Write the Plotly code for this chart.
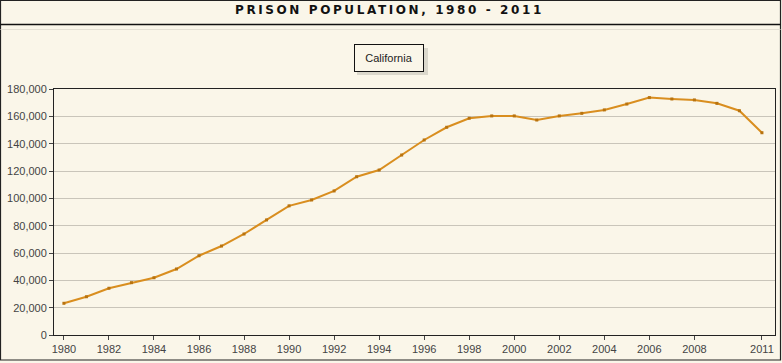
import plotly.graph_objects as go

years = list(range(1980, 2012))
california = [23200, 28000, 34200, 38300, 41900, 48300, 58000, 65100, 73900, 84200,
              94500, 98800, 105400, 115800, 120700, 131700, 142700, 152000, 158600, 160300,
              160300, 157300, 160300, 162200, 164700, 169000, 173700, 172700, 172000, 169500,
              164100, 148000]
x_ticks = [1980, 1982, 1984, 1986, 1988, 1990, 1992, 1994, 1996, 1998, 2000, 2002, 2004, 2006, 2008, 2011]
y_ticks = [0, 20000, 40000, 60000, 80000, 100000, 120000, 140000, 160000, 180000]
title_text = "PRISON POPULATION, 1980 - 2011"
series_name = "California"

W, H = 782, 363
L, R, T, B = 54, 7, 89, 28
pw, ph = W - L - R, H - T - B

def px(x):
    return (x - L) / pw

def py(y):
    return (H - B - y) / ph

bg = "#FAF6E9"
fig = go.Figure()
fig.add_trace(go.Scatter(
    x=years, y=california, mode="lines+markers", name=series_name,
    line=dict(color="#D98E1F", width=2),
    marker=dict(color="#B8730F", size=3, symbol="square"),
    showlegend=False,
))

shapes = [
    dict(type="rect", xref="paper", yref="paper", x0=px(0.5), x1=px(W - 1.5), y0=py(H - 3), y1=py(0.5),
         line=dict(color="#222", width=1.2), layer="below"),
    dict(type="line", xref="paper", yref="paper", x0=px(0.5), x1=px(W - 1.5), y0=py(24.5), y1=py(24.5),
         line=dict(color="#111", width=1.5)),
    dict(type="line", xref="paper", yref="paper", x0=px(0.5), x1=px(W - 1.5), y0=py(29.5), y1=py(29.5),
         line=dict(color="#E4E0D4", width=1)),
    dict(type="rect", xref="paper", yref="paper", x0=px(357), x1=px(428), y0=py(75), y1=py(48),
         line=dict(width=0), fillcolor="rgba(0,0,0,0.12)", layer="below"),
]

fig.update_layout(
    width=W, height=H,
    margin=dict(l=L, r=R, t=T, b=B),
    paper_bgcolor=bg, plot_bgcolor=bg,
    font=dict(family="Liberation Sans, Arial, sans-serif", size=11, color="#444"),
    shapes=shapes,
    annotations=[
        dict(text=title_text, xref="paper", yref="paper", x=px(389), y=py(10),
             showarrow=False, xanchor="center", yanchor="middle",
             font=dict(family="DejaVu Sans, sans-serif", size=12, color="#111", weight="bold")),
        dict(text=series_name, xref="paper", yref="paper", x=px(389), y=py(58.5),
             showarrow=False, xanchor="center", yanchor="middle", width=54,
             bgcolor=bg, bordercolor="#111", borderwidth=1, borderpad=7,
             font=dict(family="Liberation Sans, Arial, sans-serif", size=11, color="#222")),
    ],
    xaxis=dict(range=[1979.56, 2011.58], tickvals=x_ticks, ticktext=[str(v) for v in x_ticks],
               showgrid=False, showline=True, linecolor="#222", linewidth=1, mirror=True,
               ticks="outside", ticklen=4, tickcolor="#444", zeroline=False),
    yaxis=dict(range=[0, 180000], tickvals=y_ticks, tickformat=",",
               showgrid=True, gridcolor="#C9C5BA", gridwidth=1,
               showline=True, linecolor="#222", linewidth=1, mirror=True,
               ticks="outside", ticklen=4, tickcolor="#444", zeroline=False),
)

post = """
document.body.style.margin = '0';
document.body.style.background = '#FAF6E9';
var t = document.querySelectorAll('.annotation-text')[0];
if (t) { t.style.letterSpacing = '2.6px'; }
"""
fig.write_html("out.html", post_script=post, config={"displayModeBar": False})
